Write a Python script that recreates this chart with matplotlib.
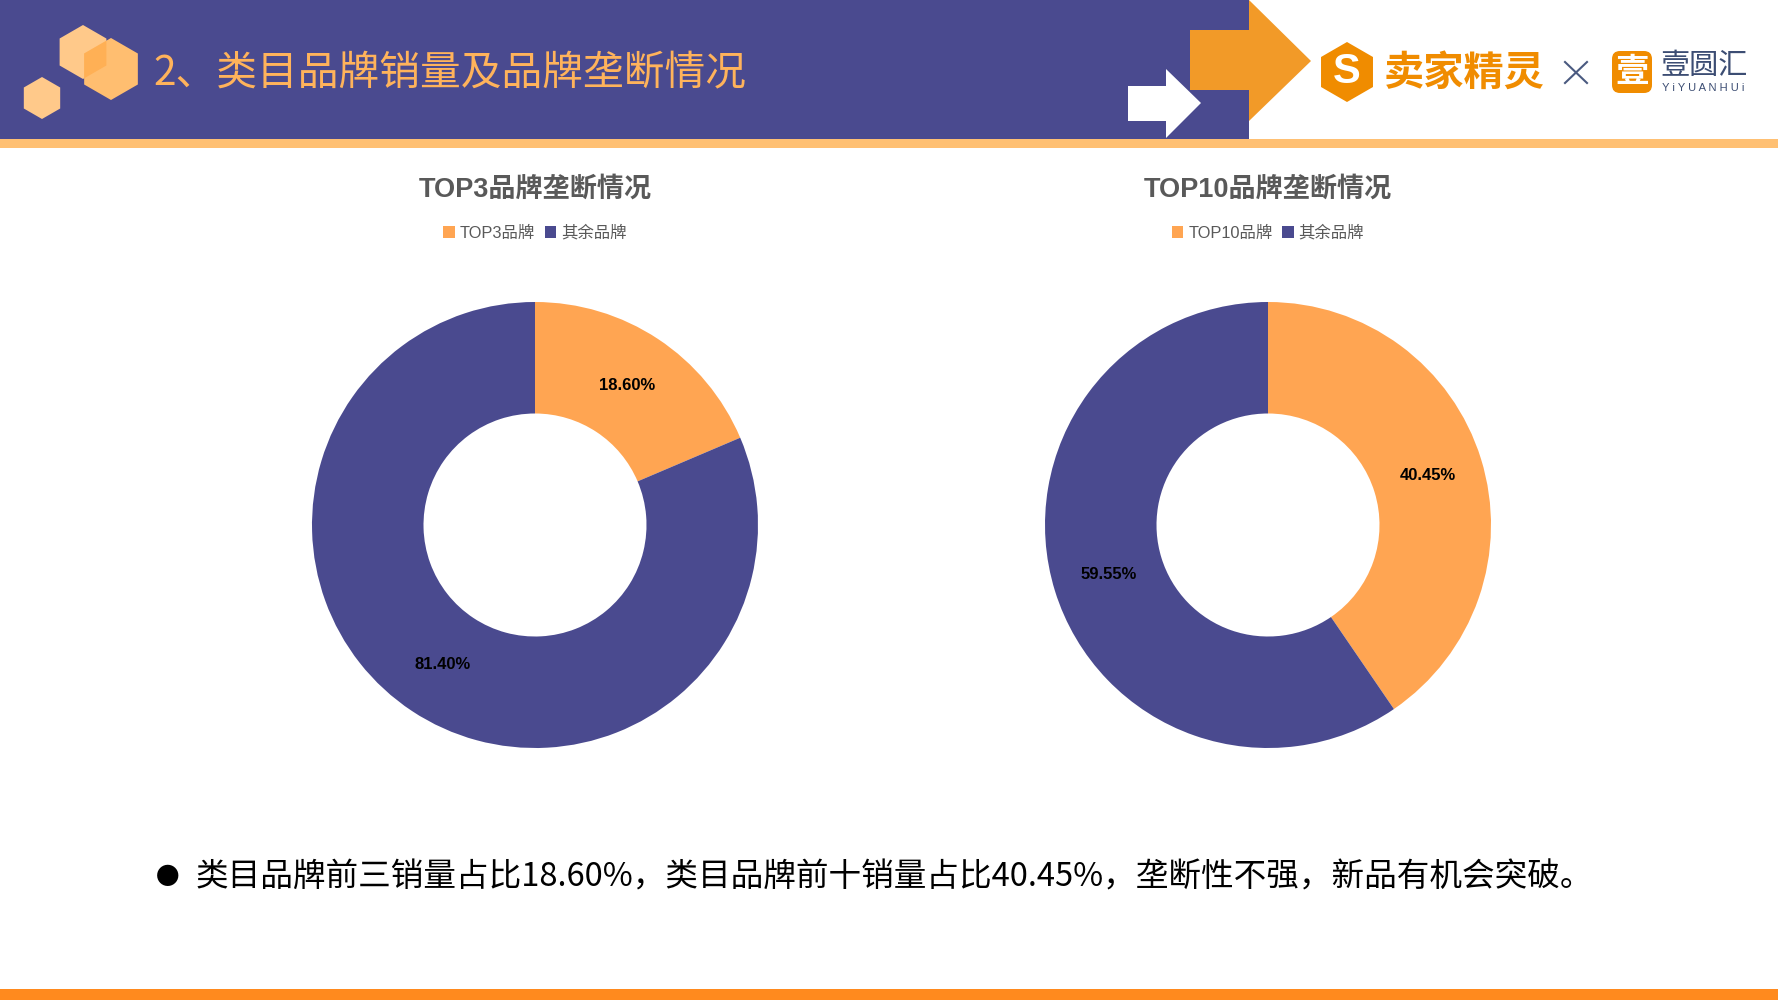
import matplotlib.pyplot as plt
from matplotlib.patches import Rectangle, Polygon, RegularPolygon, FancyBboxPatch

plt.rcParams['font.family'] = ['Liberation Sans', 'Noto Sans CJK SC']

PURPLE = '#4A4A8F'
ORANGE = '#FFA552'
CJK = ['Noto Sans CJK SC', 'DejaVu Sans']

# data
header_title = '2、类目品牌销量及品牌垄断情况'
chart_titles = ['TOP3品牌垄断情况', 'TOP10品牌垄断情况']
legend_labels = [['TOP3品牌', '其余品牌'], ['TOP10品牌', '其余品牌']]
top_share = [18.60, 40.45]
rest_share = [81.40, 59.55]
summary = '类目品牌前三销量占比18.60%，类目品牌前十销量占比40.45%，垄断性不强，新品有机会突破。'

W, H = 1778, 1000
fig = plt.figure(figsize=(W / 100, H / 100), dpi=100)
bg = fig.add_axes([0, 0, 1, 1])
bg.set_xlim(0, W)
bg.set_ylim(H, 0)
bg.axis('off')

# header band
bg.add_patch(Rectangle((0, 0), 1249, 139, color=PURPLE, lw=0))
bg.add_patch(Rectangle((0, 139), W, 9, color='#FFC073', lw=0))
bg.add_patch(Polygon([(1190, 30), (1249, 30), (1249, 0), (1311, 61), (1249, 121),
                      (1249, 90), (1190, 90)], closed=True, color='#F29A28', lw=0))
bg.add_patch(Polygon([(1128, 86), (1166, 86), (1166, 69), (1201, 103), (1166, 138),
                      (1166, 121), (1128, 121)], closed=True, color='white', lw=0))

# hexagons
h1 = RegularPolygon((83, 52), 6, radius=27, color='#FFC98A', lw=0)
h2 = RegularPolygon((111, 69), 6, radius=31, color='#FFBE70', lw=0)
h3 = RegularPolygon((42, 98), 6, radius=21, color='#FFC98A', lw=0)
for p in (h1, h2, h3):
    bg.add_patch(p)
ov = RegularPolygon((83, 52), 6, radius=27, color='#FFB055', lw=0)
bg.add_patch(ov)
ov.set_clip_path(h2)

bg.text(153, 74, header_title, family=CJK, fontsize=29.3, color='#FFB35B',
        va='center', ha='left')

# logos
bg.add_patch(RegularPolygon((1347, 72), 6, radius=30, color='#F08C00', lw=0))
bg.text(1347, 72, 'S', fontsize=30, fontweight='bold', color='white',
        ha='center', va='center')
bg.text(1384, 73, '卖家精灵', family=CJK, fontsize=29, fontweight='bold',
        color='#F08C00', ha='left', va='center')
bg.plot([1565, 1587], [62, 83], color='#4A5A80', lw=1.5)
bg.plot([1565, 1587], [83, 62], color='#4A5A80', lw=1.5)
bg.add_patch(FancyBboxPatch((1614, 53), 36, 38, boxstyle='round,pad=2,rounding_size=8',
                            color='#F08C00', lw=0))
bg.text(1632, 73, '壹', family=CJK, fontsize=24, fontweight='bold', color='white',
        ha='center', va='center')
bg.text(1660, 66, '壹圆汇', family=CJK, fontsize=21, color='#3C4D73',
        ha='left', va='center')
bg.text(1662, 88, 'Y i Y U A N H U i', fontsize=8, color='#3C4D73',
        ha='left', va='center')

# donuts
centers = [535, 1268]
for i, cx in enumerate(centers):
    ax = fig.add_axes([(cx - 223) / W, (H - 525 - 223) / H, 446 / W, 446 / H])
    wedges, texts, autotexts = ax.pie(
        [top_share[i], rest_share[i]], colors=[ORANGE, PURPLE], startangle=90,
        counterclock=False, radius=1, autopct='%.2f%%', pctdistance=0.75,
        wedgeprops=dict(width=0.5, linewidth=0),
        textprops=dict(fontsize=12, fontweight='bold', color='black'))
    ax.set_xlim(-1, 1)
    ax.set_ylim(-1, 1)
    bg.text(cx, 190, chart_titles[i], fontsize=19.5, fontweight='bold', color='#595959',
            ha='center', va='center')
    ax.legend(wedges, legend_labels[i], loc='center', bbox_to_anchor=(cx, 233),
              bbox_transform=bg.transData, ncol=2, frameon=False, fontsize=11.8,
              handlelength=0.7, handleheight=0.7, handletextpad=0.3,
              columnspacing=0.6, labelcolor='#595959')

# bullet text
bg.text(168, 877, '●', family=CJK, fontsize=17, color='black', ha='center', va='center')
bg.text(196, 877, summary, family=CJK, fontsize=23.5, color='black', ha='left', va='center')

bg.add_patch(Rectangle((0, 989), W, 11, color='#FF8A1E', lw=0))

plt.savefig('out.png', dpi=100, facecolor='white')
